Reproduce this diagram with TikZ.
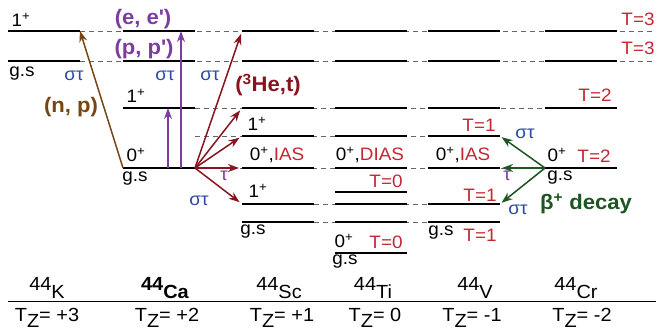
\documentclass[tikz,border=0pt]{standalone}
\usepackage{fontspec}
\setmainfont{Liberation Sans}[FakeStretch=1.05]
\usetikzlibrary{arrows.meta}

\definecolor{ppl}{RGB}{125,60,160}
\definecolor{stblue}{RGB}{45,75,165}
\definecolor{mar}{RGB}{135,20,30}
\definecolor{tred}{RGB}{195,40,50}
\definecolor{brn}{RGB}{120,70,20}
\definecolor{grn}{RGB}{30,85,35}

\newcommand{\sxt}{\textcolor{stblue}{στ}}
\newcommand{\jp}[1]{#1\textsuperscript{+}}
\newcommand{\bigbf}{\fontsize{21}{24}\selectfont\bfseries}

\begin{document}
\begin{tikzpicture}[x=1pt,y=-1pt,font=\fontsize{18}{20}\selectfont,
  lvl/.style={line width=2.3pt},
  dsh/.style={black!60,dash pattern=on 5pt off 4pt,line width=0.8pt},
  lbl/.style={inner sep=0pt},
  trans/.style={line width=1.5pt,-{Stealth[length=11pt,width=8pt]}}]
\useasboundingbox (0,0) rectangle (656,334);

% dashed links between the columns
\foreach \y/\xa/\xb in {31/80/656,61/80/656,108/195/545,136/195/500,168/195/545,204/314/500,222/314/500} {
  \draw[dsh] (\xa,\y) -- (\xb,\y);
}
% levels of each nucleus
\foreach \xl/\ys in {8/{31,61},123/{31,61,108,168},242/{31,61,108,136,168,204,222},
    335/{31,61,108,136,168,192,204,222,253},428/{31,61,108,136,168,204,222},545/{31,61,108,168}} {
  \foreach \y in \ys {
    \draw[lvl] (\xl,\y) -- ++(72,0);
  }
}

% end points of the transitions
\coordinate (CaL) at (123,168);
\coordinate (CaR) at (195,168);
\coordinate (Kup) at (80,31);
\coordinate (pA) at (168,168);
\coordinate (pAt) at (168,108);
\coordinate (pB) at (181,168);
\coordinate (pBt) at (181,31);
\coordinate (Sc31) at (242,31);
\coordinate (Sc108) at (242,108);
\coordinate (Sc136) at (242,136);
\coordinate (Sc168) at (242,168);
\coordinate (Sc204) at (242,204);
\coordinate (CrL) at (545,168);
\coordinate (V136) at (500,136);
\coordinate (V168) at (500,168);
\coordinate (V204) at (500,204);

\draw[trans,brn] (CaL) -- (Kup);
\draw[trans,ppl,line width=1.2pt] (pA) -- (pAt);
\draw[trans,ppl,line width=1.2pt] (pB) -- (pBt);
\foreach \t in {Sc31,Sc108,Sc136,Sc168,Sc204} {
  \draw[trans,mar,shorten >=3pt] (CaR) -- (\t);
}
\foreach \t in {V136,V168,V204} {
  \draw[trans,grn,shorten >=2pt] (CrL) -- (\t);
}

% level labels
\node[lbl] (k1) at (21,20) {\jp{1}};
\node[lbl] (kgs) at (22,74) {g.s};
\node[lbl] (kst) at (74,76) {\sxt};
\node[lbl,brn,font=\bigbf] (np) at (71,107) {(n, p)};
\node[lbl,ppl,font=\bigbf] (ee) at (143,19) {(e, e\textquotesingle)};
\node[lbl,ppl,font=\bigbf] (pp) at (144,49) {(p, p\textquotesingle)};
\node[lbl] (cast1) at (165,76) {\sxt};
\node[lbl] (cast2) at (210,76) {\sxt};
\node[lbl] (ca1) at (136,96) {\jp{1}};
\node[lbl] (ca0) at (136,155) {\jp{0}};
\node[lbl] (cags) at (135,179) {g.s};
\node[lbl,mar,font=\bigbf] (he) at (268,85) {(\textsuperscript{3}He,t)};
\node[lbl] (sc1a) at (257,124) {\jp{1}};
\node[lbl] (scias) at (277,155) {\jp{0},\textcolor{tred}{IAS}};
\node[lbl,ppl] (taua) at (224,176) {τ};
\node[lbl] (std) at (199,201) {\sxt};
\node[lbl] (sc1b) at (258,191) {\jp{1}};
\node[lbl] (scgs) at (253,232) {g.s};
\node[lbl] (tidias) at (370,155) {\jp{0},\textcolor{tred}{DIAS}};
\node[lbl,tred] (tit0a) at (386,181) {T=0};
\node[lbl] (ti0) at (344,241) {\jp{0}};
\node[lbl,tred] (tit0b) at (386,242) {T=0};
\node[lbl] (tigs) at (345,262) {g.s};
\node[lbl,tred] (vt1a) at (479,125) {T=1};
\node[lbl] (vias) at (463,155) {\jp{0},\textcolor{tred}{IAS}};
\node[lbl,tred] (vt1b) at (480,195) {T=1};
\node[lbl] (vgs) at (441,233) {g.s};
\node[lbl,tred] (vt1c) at (480,235) {T=1};
\node[lbl] (stg) at (525,134) {\sxt};
\node[lbl,ppl] (taub) at (507,176) {τ};
\node[lbl] (ste) at (518,210) {\sxt};
\node[lbl,grn,font=\bigbf] (beta) at (586,204) {β\textsuperscript{+} decay};
\node[lbl] (cr0) at (557,155) {\jp{0}};
\node[lbl,tred] (crt2a) at (594,156) {T=2};
\node[lbl] (crgs) at (560,178) {g.s};
\node[lbl,tred] (crt2b) at (595,95) {T=2};
\node[lbl,tred] (crt3a) at (638,19) {T=3};
\node[lbl,tred] (crt3b) at (638,48) {T=3};

% nuclei and isospin projections
\draw[line width=1pt] (8,301) -- (656,301);
\foreach \xn/\xt/\nuc/\wt/\tz in {47/47/K/\mdseries/+3,165/167/Ca/\bfseries/+2,279/282/Sc/\mdseries/+1,
    373/375/Ti/\mdseries/0,475/472/V/\mdseries/-1,576/582/Cr/\mdseries/-2} {
  \node[lbl,font=\fontsize{19}{21}\selectfont\wt] (nuc\xn) at (\xn,288) {\raisebox{8pt}{44}\nuc};
  \node[lbl,font=\fontsize{19}{21}\selectfont] (tz\xn) at (\xt,318) {T\raisebox{-6pt}{Z}= \tz};
}
\end{tikzpicture}
\end{document}
